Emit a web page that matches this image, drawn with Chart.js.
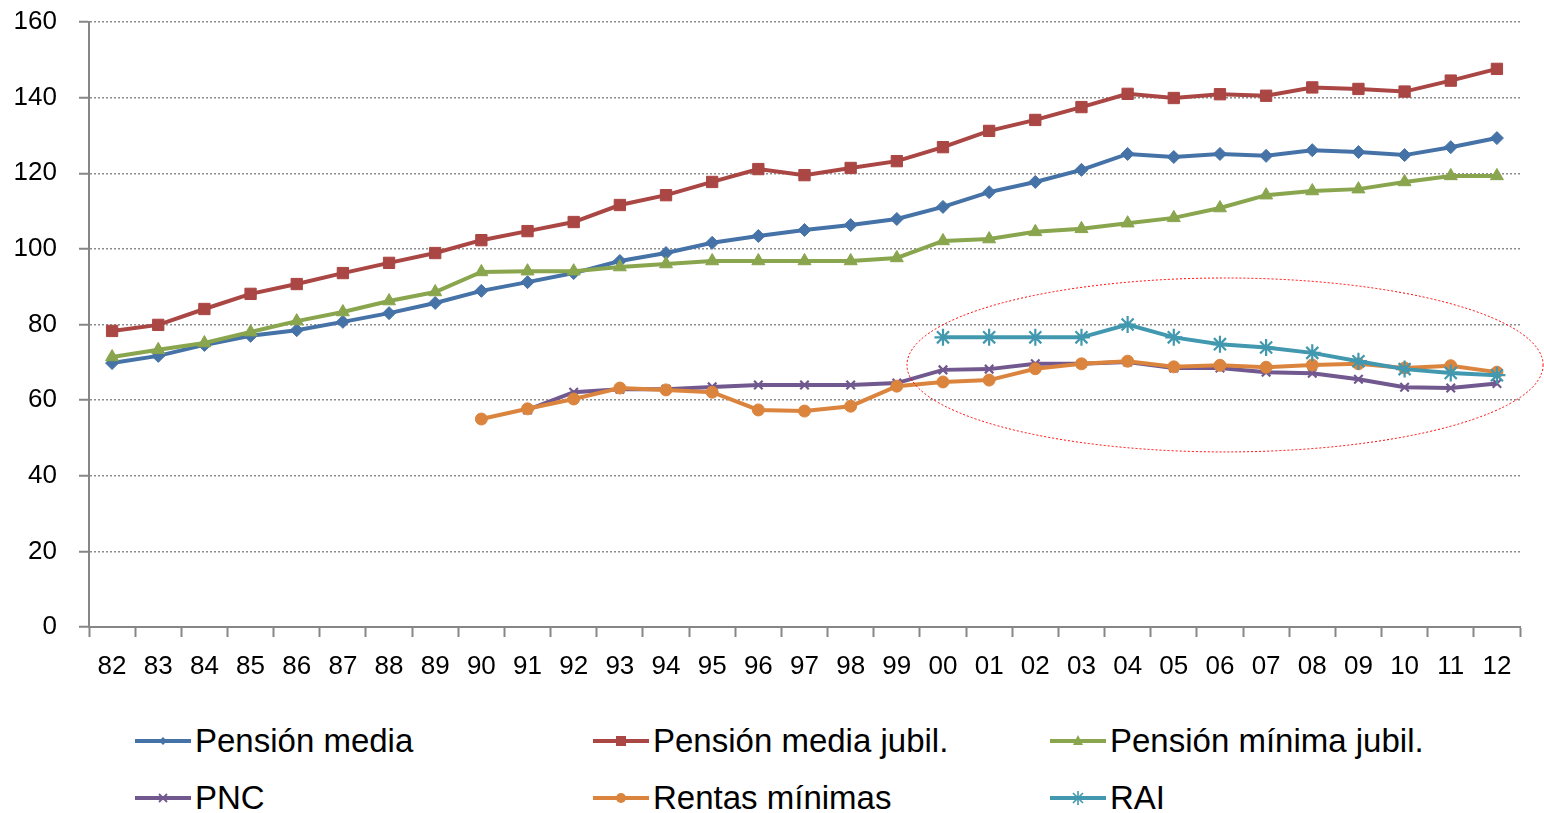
<!DOCTYPE html>
<html>
<head>
<meta charset="utf-8">
<script src="https://cdn.jsdelivr.net/npm/chart.js@4.4.1/dist/chart.umd.min.js"></script>
<style>
  html, body { margin: 0; padding: 0; background: #fff; }
  #wrap { position: relative; width: 1544px; height: 813px; overflow: hidden; }
  #c { position: absolute; left: 0; top: 0; }
  .lg { position: absolute; display: flex; align-items: center; font-family: "Liberation Sans", Arial, sans-serif; font-size: 33px; color: #000; white-space: nowrap; }
  .lg svg { margin-right: 4px; }
</style>
</head>
<body>
<div id="wrap">
  <canvas id="c" width="1544" height="700"></canvas>
</div>
<script>
// ---- data ----
const years = ["82","83","84","85","86","87","88","89","90","91","92","93","94","95","96","97","98","99","00","01","02","03","04","05","06","07","08","09","10","11","12"];
const seriesNames = ["Pensión media","Pensión media jubil.","Pensión mínima jubil.","PNC","Rentas mínimas","RAI"];
const pensionMedia = [69.8,71.7,74.6,77.0,78.5,80.7,83.0,85.7,88.9,91.2,93.6,96.8,98.9,101.6,103.4,105.0,106.3,107.9,111.1,115.0,117.7,120.9,125.1,124.3,125.1,124.6,126.1,125.6,124.8,126.9,129.3];
const pensionMediaJubil = [78.3,79.9,84.1,88.1,90.7,93.6,96.3,98.9,102.3,104.7,107.1,111.6,114.2,117.7,121.1,119.5,121.4,123.2,126.9,131.2,134.1,137.5,141.0,139.9,140.9,140.5,142.7,142.3,141.6,144.5,147.6];
const pensionMinimaJubil = [71.4,73.3,75.1,78.0,80.9,83.3,86.2,88.6,93.9,94.1,94.1,95.2,96.0,96.8,96.8,96.8,96.8,97.6,102.1,102.6,104.5,105.3,106.8,108.2,110.8,114.2,115.3,115.8,117.7,119.3,119.3];
const pnc = [null,null,null,null,null,null,null,null,null,57.4,62.1,62.9,62.9,63.5,64.0,64.0,64.0,64.5,68.0,68.2,69.6,69.6,70.1,68.5,68.5,67.4,67.1,65.5,63.4,63.2,64.4];
const rentasMinimas = [null,null,null,null,null,null,null,null,55.0,57.7,60.3,63.2,62.7,62.1,57.4,57.1,58.4,63.7,64.8,65.3,68.3,69.6,70.3,68.8,69.2,68.7,69.3,69.6,68.5,69.1,67.4];
const rai = [null,null,null,null,null,null,null,null,null,null,null,null,null,null,null,null,null,null,76.6,76.6,76.6,76.6,80.0,76.6,74.8,73.9,72.5,70.3,68.2,67.2,66.6];
const yTicks = [0,20,40,60,80,100,120,140,160];
// highlight ellipse bounds (category index / value units)
const ellipseX = [17.22, 31.0];
const ellipseY = [46.3, 92.3];

const colors = ["#4572A7","#AA4643","#89A54E","#71588F","#DB843D","#4198AF"];
const styles = ["rectRot","rect","triangle","crossRot","circle","star"];
const radii = [6.5, 8, 7.5, 6, 6, 8.5];
const values = [pensionMedia, pensionMediaJubil, pensionMinimaJubil, pnc, rentasMinimas, rai];

const ellipsePlugin = {
  id: 'ellipse',
  afterDatasetsDraw(chart) {
    const {ctx, scales: {x, y}} = chart;
    const x1 = x.getPixelForValue(ellipseX[0]), x2 = x.getPixelForValue(ellipseX[1]);
    const y1 = y.getPixelForValue(ellipseY[1]), y2 = y.getPixelForValue(ellipseY[0]);
    ctx.save();
    ctx.strokeStyle = '#FF0000';
    ctx.lineWidth = 1;
    ctx.setLineDash([2, 2]);
    ctx.beginPath();
    ctx.ellipse((x1 + x2) / 2, (y1 + y2) / 2, (x2 - x1) / 2, (y2 - y1) / 2, 0, 0, Math.PI * 2);
    ctx.stroke();
    ctx.restore();
  }
};

const datasets = seriesNames.map((n, i) => ({
  label: n,
  data: values[i],
  borderColor: colors[i],
  backgroundColor: colors[i],
  borderWidth: 4,
  pointStyle: styles[i],
  pointRadius: radii[i],
  pointBorderWidth: (styles[i] === 'star' || styles[i] === 'crossRot') ? 2.2 : 1,
  pointBackgroundColor: colors[i],
  pointBorderColor: colors[i],
  tension: 0,
  order: seriesNames.length - 1 - i
}));

Chart.defaults.font.family = '"Liberation Sans", Arial, sans-serif';
Chart.defaults.color = '#000';

new Chart(document.getElementById('c'), {
  type: 'line',
  data: { labels: years, datasets },
  plugins: [ellipsePlugin],
  options: {
    responsive: false,
    animation: false,
    devicePixelRatio: 1,
    layout: { padding: { left: 0, right: 24, top: 22, bottom: 0 } },
    plugins: { legend: { display: false }, tooltip: { enabled: false } },
    scales: {
      x: {
        offset: true,
        afterFit: s => { s.height = 73; s.paddingLeft = 0; s.paddingRight = 0; },
        grid: { offset: true, drawOnChartArea: false, drawTicks: true, tickLength: 10, tickColor: '#868686', tickWidth: 2 },
        border: { color: '#868686', width: 2 },
        ticks: { font: { size: 26 }, padding: 14, maxRotation: 0, autoSkip: false }
      },
      y: {
        min: 0, max: 160,
        afterFit: s => { s.width = 89; s.paddingTop = 0; s.paddingBottom = 0; },
        afterBuildTicks: s => { s.ticks = yTicks.map(v => ({ value: v })); },
        grid: { color: '#8c8c8c', lineWidth: 1.5, tickLength: 10, tickColor: '#868686', tickWidth: 2, tickBorderDash: [] },
        border: { color: '#868686', width: 2, dash: [2, 2] },
        ticks: { font: { size: 26 }, padding: 22 }
      }
    }
  }
});

// ---- HTML legend ----
const legendPos = [[135, 741], [593, 741], [1050, 741], [135, 798], [593, 798], [1050, 798]];
function markerSvg(style, color) {
  const cx = 28, cy = 10;
  let m = '';
  if (style === 'rectRot') m = `<polygon points="${cx},${cy-4} ${cx+4},${cy} ${cx},${cy+4} ${cx-4},${cy}" fill="${color}"/>`;
  else if (style === 'rect') m = `<rect x="${cx-5}" y="${cy-5}" width="10" height="10" fill="${color}"/>`;
  else if (style === 'triangle') m = `<polygon points="${cx},${cy-6} ${cx+5},${cy+4} ${cx-5},${cy+4}" fill="${color}"/>`;
  else if (style === 'crossRot') m = `<path d="M${cx-4},${cy-4}L${cx+4},${cy+4}M${cx+4},${cy-4}L${cx-4},${cy+4}" stroke="${color}" stroke-width="1.8"/>`;
  else if (style === 'circle') m = `<circle cx="${cx}" cy="${cy}" r="5" fill="${color}"/>`;
  else if (style === 'star') m = `<path d="M${cx},${cy-7}L${cx},${cy+7}M${cx-5},${cy-5}L${cx+5},${cy+5}M${cx+5},${cy-5}L${cx-5},${cy+5}" stroke="${color}" stroke-width="1.6"/>`;
  return `<svg width="56" height="20" viewBox="0 0 56 20"><line x1="0" y1="10" x2="56" y2="10" stroke="${color}" stroke-width="4"/>${m}</svg>`;
}
const wrap = document.getElementById('wrap');
seriesNames.forEach((n, i) => {
  const d = document.createElement('div');
  d.className = 'lg';
  d.style.left = legendPos[i][0] + 'px';
  d.style.top = (legendPos[i][1] - 20) + 'px';
  d.style.height = '40px';
  d.innerHTML = markerSvg(styles[i], colors[i]) + '<span>' + n + '</span>';
  wrap.appendChild(d);
});
</script>
</body>
</html>
